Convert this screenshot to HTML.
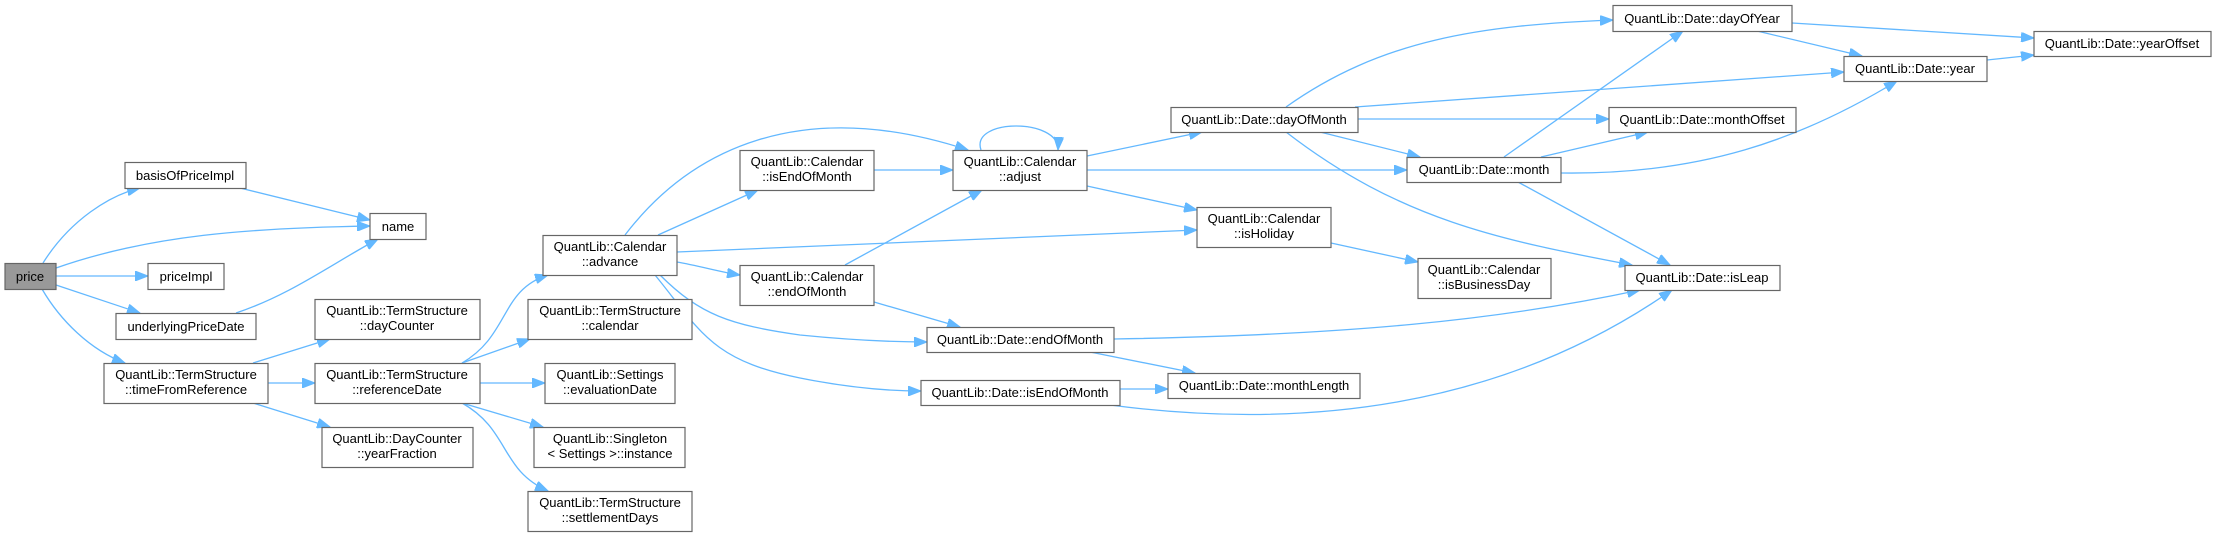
<!DOCTYPE html>
<html><head><meta charset="utf-8"><style>
html,body{margin:0;padding:0;background:#fff;}
svg{display:block;}
text{font-family:"Liberation Sans",Arial,sans-serif;font-size:13px;fill:#000;}
.b{fill:#fff;stroke:#666;stroke-width:1.2;}
.g{fill:#999;stroke:#666;stroke-width:1.2;}
.e{fill:none;stroke:#63b8ff;stroke-width:1.3;marker-end:url(#a);}
</style></head><body>
<svg width="2216" height="537" viewBox="0 0 2216 537" xmlns="http://www.w3.org/2000/svg">
<defs><marker id="a" markerUnits="userSpaceOnUse" markerWidth="14" markerHeight="10" refX="13" refY="5" orient="auto"><path d="M0,0 L13,5 L0,10 z" fill="#63b8ff" stroke="#63b8ff"/></marker></defs>
<g>
<path class="e" d="M43,263 C70,220 110,195 140,188"/>
<path class="e" d="M240,188 L370,220"/>
<path class="e" d="M56,268 C150,235 250,228 370,226"/>
<path class="e" d="M56,276 L148,276"/>
<path class="e" d="M56,285 L140,313"/>
<path class="e" d="M236,313 C290,295 330,265 378,239"/>
<path class="e" d="M42,289 C60,320 90,350 125,363"/>
<path class="e" d="M253,363 L330,339"/>
<path class="e" d="M268,383 L315,383"/>
<path class="e" d="M253,403 L330,427"/>
<path class="e" d="M462,363 C510,335 500,290 548,275"/>
<path class="e" d="M462,363 L530,339"/>
<path class="e" d="M480,383 L545,383"/>
<path class="e" d="M462,403 L543,427"/>
<path class="e" d="M462,403 C510,430 500,470 548,491"/>
<path class="e" d="M625,235 C690,150 800,95 968,150"/>
<path class="e" d="M658,235 L758,190"/>
<path class="e" d="M677,252 L1197,230"/>
<path class="e" d="M677,262 C700,266 720,272 740,275"/>
<path class="e" d="M660,275 C700,315 730,325 800,335 C850,340 890,342 927,342"/>
<path class="e" d="M655,275 C700,330 710,360 800,378 C850,388 890,391 921,391"/>
<path class="e" d="M874,170 L953,170"/>
<path class="e" d="M981,150 C970,118 1060,118 1058,150"/>
<path class="e" d="M845,265 L982,190"/>
<path class="e" d="M874,302 L960,327"/>
<path class="e" d="M1087,156 L1202,132"/>
<path class="e" d="M1087,170 L1407,170"/>
<path class="e" d="M1087,186 L1197,210"/>
<path class="e" d="M1286,107 C1380,40 1480,25 1613,20"/>
<path class="e" d="M1355,107 L1844,72"/>
<path class="e" d="M1358,119 L1609,119"/>
<path class="e" d="M1320,132 L1420,157"/>
<path class="e" d="M1286,132 C1400,220 1500,240 1632,265"/>
<path class="e" d="M1331,243 L1418,262"/>
<path class="e" d="M1114,339 C1350,335 1500,320 1640,290"/>
<path class="e" d="M1090,352 L1195,373"/>
<path class="e" d="M1120,389 L1168,389"/>
<path class="e" d="M1110,405 C1300,430 1500,410 1672,290"/>
<path class="e" d="M1504,157 L1683,31"/>
<path class="e" d="M1541,157 L1648,132"/>
<path class="e" d="M1561,173 C1700,175 1800,140 1897,81"/>
<path class="e" d="M1518,182 L1670,265"/>
<path class="e" d="M1757,31 L1862,56"/>
<path class="e" d="M1792,23 L2034,38"/>
<path class="e" d="M1987,60 L2034,55"/>
</g>
<g text-anchor="middle">
<rect class="g" x="5" y="263.5" width="51" height="26"/><text x="30" y="281">price</text>
<rect class="b" x="125" y="162.5" width="121" height="26"/><text x="185" y="180">basisOfPriceImpl</text>
<rect class="b" x="370" y="213.5" width="56" height="26"/><text x="398" y="231">name</text>
<rect class="b" x="148" y="263.5" width="76" height="26"/><text x="186" y="281">priceImpl</text>
<rect class="b" x="116" y="313.5" width="140" height="26"/><text x="186" y="331">underlyingPriceDate</text>
<rect class="b" x="104" y="363.5" width="164" height="40"/><text x="186" y="379">QuantLib::TermStructure</text><text x="186" y="394">::timeFromReference</text>
<rect class="b" x="315" y="299.5" width="165" height="40"/><text x="397" y="315">QuantLib::TermStructure</text><text x="397" y="330">::dayCounter</text>
<rect class="b" x="315" y="363.5" width="165" height="40"/><text x="397" y="379">QuantLib::TermStructure</text><text x="397" y="394">::referenceDate</text>
<rect class="b" x="322" y="427.5" width="151" height="40"/><text x="397" y="443">QuantLib::DayCounter</text><text x="397" y="458">::yearFraction</text>
<rect class="b" x="543" y="235.5" width="134" height="40"/><text x="610" y="251">QuantLib::Calendar</text><text x="610" y="266">::advance</text>
<rect class="b" x="528" y="299.5" width="164" height="40"/><text x="610" y="315">QuantLib::TermStructure</text><text x="610" y="330">::calendar</text>
<rect class="b" x="545" y="363.5" width="130" height="40"/><text x="610" y="379">QuantLib::Settings</text><text x="610" y="394">::evaluationDate</text>
<rect class="b" x="534" y="427.5" width="151" height="40"/><text x="610" y="443">QuantLib::Singleton</text><text x="610" y="458">&lt; Settings &gt;::instance</text>
<rect class="b" x="528" y="491.5" width="164" height="40"/><text x="610" y="507">QuantLib::TermStructure</text><text x="610" y="522">::settlementDays</text>
<rect class="b" x="740" y="150.5" width="134" height="40"/><text x="807" y="166">QuantLib::Calendar</text><text x="807" y="181">::isEndOfMonth</text>
<rect class="b" x="953" y="150.5" width="134" height="40"/><text x="1020" y="166">QuantLib::Calendar</text><text x="1020" y="181">::adjust</text>
<rect class="b" x="740" y="265.5" width="134" height="40"/><text x="807" y="281">QuantLib::Calendar</text><text x="807" y="296">::endOfMonth</text>
<rect class="b" x="1171" y="107.5" width="187" height="25"/><text x="1264" y="124">QuantLib::Date::dayOfMonth</text>
<rect class="b" x="1197" y="207.5" width="134" height="40"/><text x="1264" y="223">QuantLib::Calendar</text><text x="1264" y="238">::isHoliday</text>
<rect class="b" x="927" y="327.5" width="187" height="25"/><text x="1020" y="344">QuantLib::Date::endOfMonth</text>
<rect class="b" x="921" y="380.5" width="199" height="25"/><text x="1020" y="397">QuantLib::Date::isEndOfMonth</text>
<rect class="b" x="1168" y="373.5" width="192" height="25"/><text x="1264" y="390">QuantLib::Date::monthLength</text>
<rect class="b" x="1613" y="5.5" width="179" height="26"/><text x="1702" y="23">QuantLib::Date::dayOfYear</text>
<rect class="b" x="2034" y="31.5" width="177" height="25"/><text x="2122" y="48">QuantLib::Date::yearOffset</text>
<rect class="b" x="1844" y="56.5" width="143" height="25"/><text x="1915" y="73">QuantLib::Date::year</text>
<rect class="b" x="1609" y="107.5" width="187" height="25"/><text x="1702" y="124">QuantLib::Date::monthOffset</text>
<rect class="b" x="1407" y="157.5" width="154" height="25"/><text x="1484" y="174">QuantLib::Date::month</text>
<rect class="b" x="1418" y="258.5" width="133" height="40"/><text x="1484" y="274">QuantLib::Calendar</text><text x="1484" y="289">::isBusinessDay</text>
<rect class="b" x="1625" y="265.5" width="155" height="25"/><text x="1702" y="282">QuantLib::Date::isLeap</text>
</g>
</svg>
</body></html>
